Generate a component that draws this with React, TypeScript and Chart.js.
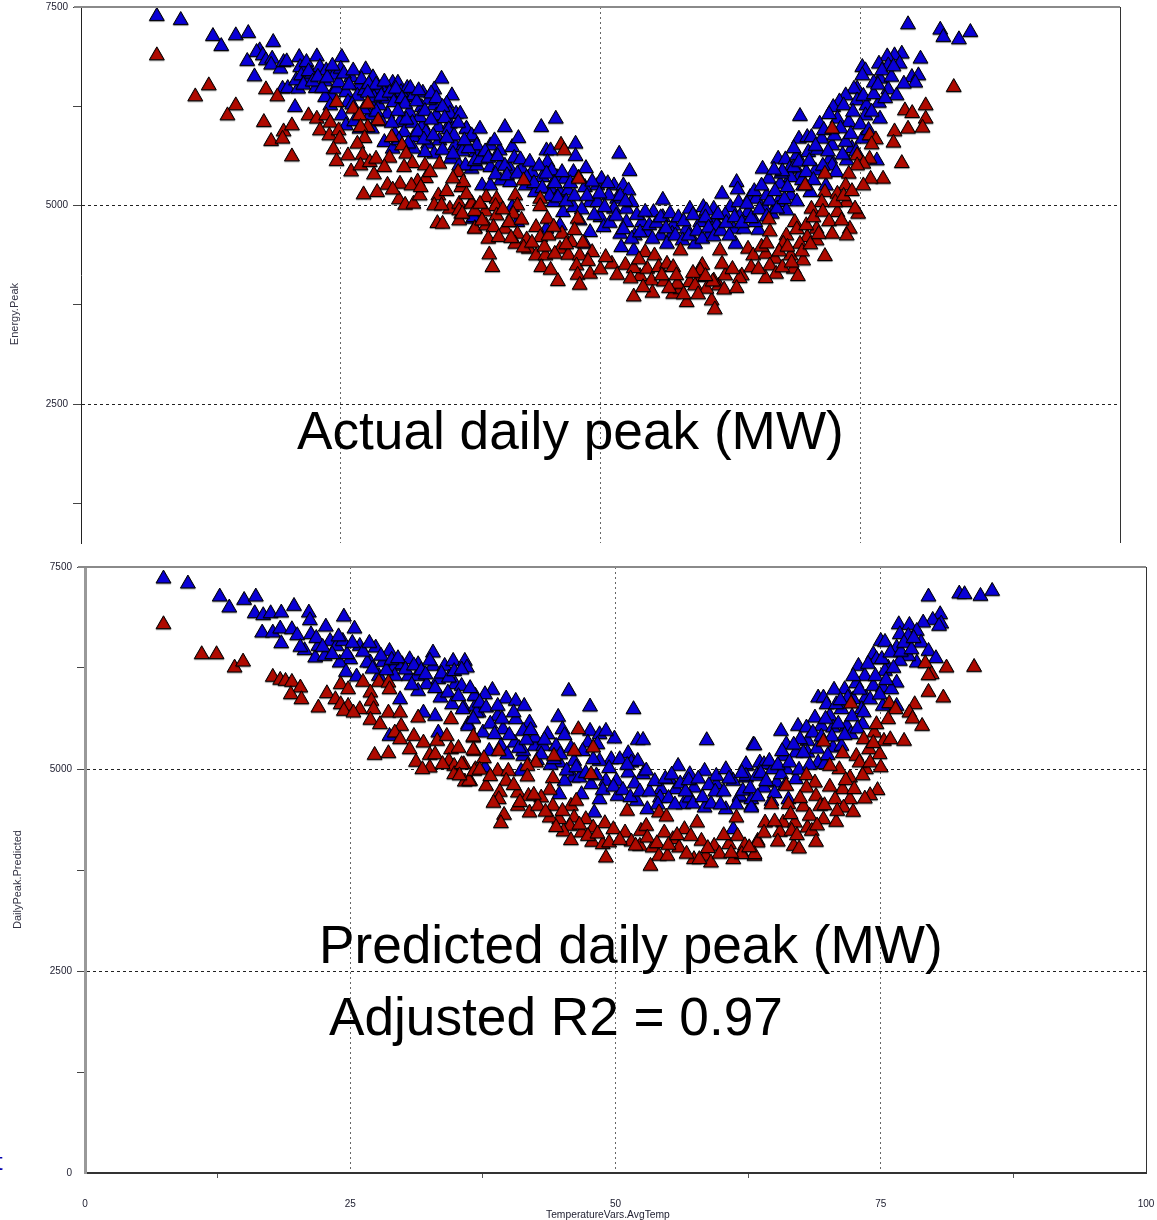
import React, { useEffect, useRef } from "react";
import { Chart, registerables } from "chart.js";

Chart.register(...registerables);

const xTickValues = [0, 12.5, 25, 37.5, 50, 62.5, 75, 87.5, 100];
const xTickLabels = [0, 25, 50, 75, 100];
const yTickValues = [1250, 2500, 3750, 5000, 6250, 7500];
const yTickLabels = [0, 2500, 5000, 7500];

const actualBlue = [
[7.3,7385],[9.6,7335],[12.7,7133],[13.5,7007],[14.9,7142],[16.1,7171],[18.5,7058],[16,6819],[16.7,6625],[17.2,6953],[16.9,6932],[17.5,6890],[17.8,6827],[18.4,6848],[18.3,6772],[19.2,6722],[19.5,6806],[19.8,6814],[19.4,6470],[19.9,6478],[20.9,6470],[20.6,6239],[21,6869],[21.1,6743],[21.7,6806],[22.7,6877],[20.7,6575],[21.2,6638],[21.7,6596],[22.2,6659],[23,6743],[22.6,6478],[23.5,6562],[23.6,6701],[25.1,6869],[24.4,6646],[25,6722],[26,6617],[27.4,6714],[28.1,6613],[24.1,6386],[23.5,6365],[24.6,6470],[25.5,6428],[26.8,6512],[25.7,6302],[25.1,6134],[25.5,6008],[24,6260],[28.1,6428],[28.7,6470],[29.4,6491],[30,6545],[30.5,6545],[34.7,6596],[34,6461],[35.7,6386],
[32.8,6239],[31.6,6365],[34,6260],[35.2,6281],[36.1,6155],[29.5,6155],[30.7,6050],[31.6,6176],[32.9,6008],[34.4,5987],[35.5,6029],[32,5861],[33.4,5777],[34.5,5819],[36,5756],[37.1,5966],[37.7,5861],[34,5651],[35.6,5588],[36.4,5504],[38,5672],[37.6,5462],[31.1,5924],[35.5,6155],[28.7,6260],[27.8,6302],[30.2,6386],[32,6386],[30.8,6428],[29.4,6344],[28,5966],[29.2,5798],[26.8,5966],[33.1,5672],[37.7,4832],[27.8,6134],[32.6,6113],[34.2,6134],[32,5714],[30,5714],[31.4,6480],[32.9,6420],[33.5,6330],[28.9,6060],[30.2,5900],[31.9,6040],
[36.5,6155],[37.1,5966],[37.6,5882],[36.8,5756],[38.1,5756],[39.4,5756],[40.3,5693],[41.5,5735],[37,5504],[38.1,5504],[39.4,5483],[41.3,5462],[40.4,5315],[38.6,5252],[39.4,5252],[41.3,5294],[42.8,5252],[43.4,5420],[44.4,5357],[43.7,5168],[45.2,5210],[45.8,5357],[46.6,5336],[47.4,5420],[46.1,5168],[46.9,5189],[48.5,5231],[49.7,5252],[50.1,5336],[51.3,5252],[51.6,5084],[49,5042],[50,4853],[51.3,4958],[52.5,4790],[54,4790],[50.3,4727],[49,4664],[51.9,4643],[53.3,4622],[54.5,4664],[55.8,4622],[57,4748],[58.3,4706],[59.6,4790],[61,4811],[56.9,4643],[46.4,4916],[45.5,5042],[48,4811],[48.5,4517],[37.8,4853],[42,4790],[41.5,4979],[44.8,4706],[46.1,4748],[52.5,4958],[47.4,4979],[50.8,5126],[49.7,5042],[40.3,5504],[42.4,5462],
[51.8,5651],[52.8,5433],[47.6,5777],[47.6,5622],[44.8,5693],[45.2,5693],[44.9,5546],[45.3,5441],[48.6,5470],[52.2,5252],[52.7,5189],[53,5042],[56,5071],[55.1,4916],[56,4853],[58.6,4958],[59.9,4979],[60.9,4958],[40.8,5987],[38.4,5966],[42.1,5848],[39.8,5819],[44.3,5987],[45.7,6092],[52,4475],[53.2,4433],[56.4,4517],[59.1,4517],
[79.6,7281],[82.7,7213],[83,7121],[84.5,7092],[85.6,7184],[80.8,6848],[79,6911],[78.3,6890],[77.6,6877],[76.8,6785],[77.7,6764],[78.8,6785],[75.2,6743],[75.5,6701],[75.2,6638],[76.9,6596],[76.3,6546],[77.7,6462],[78.5,6386],[79.97,6617],[80.6,6638],[80.3,6546],[79.2,6533],[74.7,6470],[74.4,6470],[73.6,6386],[74.7,6323],[75.6,6260],[76.8,6293],[73,6310],[72.4,6239],[73.4,6260],[75.5,6134],[69.2,6126],[71.1,6029],[72.8,6092],[73.9,6050],[76.9,6092],[69.1,5840],[69.9,5861],[70.3,5861],[71.3,5840],[72.3,5756],[74.2,5722],[75.2,5840],[67.1,5588],[67.8,5580],[68.9,5630],[70,5672],[72.1,5588],[73.7,5567],[76.6,5567],[65.6,5462],[68.2,5462],[69.2,5378],[70.7,5441],[72.3,5504],[66.2,5336],[67.3,5273],[68.3,5357],[70.2,5168],[63.1,5294],[63.2,5202],[64.4,5105],[65,5084],[66,5126],[67.1,5042],[68.3,5126],[61.7,5147],[62.5,4979],[64.2,4916],[65.2,4693],[66.5,4895],[67.9,4937],[62.8,4706],[63,4517],[63.8,4706],[60.2,4937],[61.2,4748],[64.9,4790],[63.4,4860],[60.5,4640],[62,4880],[65.8,4960],[69.5,5250]
];

const actualBlueDense = [
[21.4,6520],[21.9,6690],[22.3,6560],[22.8,6620],[23.2,6480],[23.7,6610],[24.2,6760],[24.8,6550],[25.3,6660],[25.8,6520],[26.2,6700],[26.6,6380],[27,6590],[27.3,6450],[27.7,6530],[28.2,6360],[28.4,6520],[28.9,6380],[29.2,6560],[29.7,6420],[30.1,6300],[30.3,6470],[30.9,6350],[31.2,6280],[31.7,6480],[32.3,6310],[32.5,6450],[33.1,6190],[33.7,6410],[34.2,6350],[34.8,6240],[35,6100],[35.4,5960],[35.9,5880],[36.3,6040],[36.7,5680],[37.3,5720],[37.9,5560],[33.2,5920],[33.7,6080],[31.3,6080],[30.5,6190],[29.9,6040],[28.4,6180],[27.2,6210],[26.3,6060],[27.6,6420],[26.1,6270],[30.6,5820],[31.5,5780],[32.4,5930],[33,5830],[33.9,5880],[34.8,5700],[35.2,5850],[35.8,5650],[36.9,5820],[38.4,5580],[38.9,5680],[39.2,5600],[39.9,5390],[40.1,5620],[40.8,5500],[41,5380],[41.7,5600],[42,5400],[42.3,5580],[42.9,5350],[43.2,5550],[43.6,5280],[44.1,5500],[44.4,5220],[44.8,5400],[45.1,5120],[45.6,5280],[45.9,5100],[46.3,5420],[46.7,5050],[47.1,5280],[47.5,5120],[47.9,5350],[48.2,4950],[48.7,5120],[49.2,5300],[49.4,4880],[49.9,5150],[50.4,4980],[50.7,5280],[50.9,4780],[51.5,4870],[51.9,5120],[52.2,4700],[52.4,5050],[53,4580],[53.5,4880],[53.8,4660],[54.3,4920],[54.7,4750],[55,4580],[55.4,4780],[55.8,4850],[56.3,4710],[56.7,4900],[57.2,4620],[57.5,4850],[57.9,4560],[58,4800],[58.5,4620],[58.9,4880],[59.3,4680],[59.8,4580],[60.1,4850],[60.4,4720],[60.9,4610],[61.3,4890],[61.6,4680],[62.1,4780],[62.4,4620],[62.9,4850],[63.3,5040],[63.6,4780],[64.1,5020],[64.5,4840],[64.8,5180],[65.3,4950],[65.5,5250],[66,4860],[66.3,5060],[66.8,5180],[67,4960],[67.4,5400],[67.7,5080],[68,5230],[68.6,5480],[68.9,5050],[69.1,5550],[69.4,5320],[69.8,5420],[70.1,5560],[70.5,5320],[70.9,5700],[71.4,5500],[71.7,5250],[71.9,5680],[72.5,5880],[72.7,5420],[73.1,5970],[73.3,5640],[73.6,5800],[74.1,5900],[74.3,6180],[74.6,5680],[75,6020],[75.3,6380],[75.8,5950],[76.1,6180],[76.3,6400],[76.7,6520],[77.1,6700],[77.4,6350],[78,6620],[78.2,6750],[72,6150],[71.5,5950],[70.7,5750],[68.6,5720],[67.5,5430],[66.7,5450]
];

const actualRed = [
[7.3,6890],[12.3,6512],[11,6373],[14.9,6260],[14.1,6134],[17.8,6462],[18.9,6373],[17.6,6050],[19.5,5932],[20.3,6008],[18.3,5811],[19.4,5840],[20.3,5617],[24.6,6302],[26.2,6218],[27.6,6281],[21.9,6134],[22.7,6092],[23.6,6134],[24,6042],[23,5945],[23.9,5882],[24.8,5945],[26.8,6134],[28.6,6071],[27.6,5987],[26.9,5987],[27.3,5848],[29.9,5861],[24.9,5840],[26.6,5777],[24.3,5706],[25.7,5630],[24.6,5559],[27.1,5638],[26,5428],[26.9,5504],[27.8,5546],[28.4,5588],[29.7,5600],[29.2,5483],[30.9,5756],[31.3,5651],[31.9,5533],[31.1,5483],[33.1,5504],[34.5,5525],[33.2,5344],[36.3,5420],[36.6,5231],[29.5,5260],[30.7,5273],[32.4,5302],[31.8,5252],[27.2,5139],[28.5,5168],[30.6,5076],[31.2,5008],[32,5021],[32.6,5126],[34.4,5126],[34,5000],[35.5,4958],[34.7,5000],[36.4,5021],[37.6,5034],[36.6,4895],[34.3,4777],[34.8,4769],[36.4,4811],[37.9,4714],[36.4,4937],
[46.2,5764],[46.5,5693],[42.6,5315],[47.9,5336],[36.8,5294],[44.2,5084],[44.2,4992],[41.8,5126],[42,5000],[39,5105],[40,5084],[37.6,5021],[39.9,4992],[41.6,4895],[38.9,4924],[36.7,4895],[40,4874],[44.9,4832],[47.8,4832],[43.8,4727],[37.9,4706],[39,4748],[39.7,4727],[40.8,4706],[42,4643],[42.9,4572],[44.2,4601],[46.3,4643],[47.2,4538],[39.2,4580],[40.2,4601],[41.8,4517],[43.1,4454],[43.8,4370],[44.7,4370],[46.1,4454],[45.6,4391],[46.9,4378],[49.2,4412],[48,4370],[47.7,4244],[44.3,4223],[45.2,4189],[47.8,4126],[49,4139],[50,4194],[45.9,4047],[48,4000],[39.3,4383],[39.6,4223],[51.1,4265],[52.4,4252],[51.6,4126],[53.8,4110],[53.2,4210],[54.3,4412],[55.2,4370],[57.7,4433],[54.5,4202],[55.6,4223],[56.4,4265],[57,4223],[54.9,4055],[56.1,4042],[53.2,3853],[55,3900],[57,3887],[58.3,3782],[58.6,4034],[59.6,4097],[57.7,3950],[59.1,3992],[60.7,3803],[61,3690],[61.4,3992],[60.9,4055],[57.4,4013],[62,4118],[63.6,4118],[60.2,3950],[59.8,4250],
[84,6491],[81.3,6260],[79.3,6197],[80,6163],[81.3,6092],[79.6,5966],[81,5979],[78.3,5932],[78.2,5790],[79,5533],[75.9,5882],[76.5,5832],[76.1,5769],[72.3,5966],[75.9,5588],[74.7,5630],[75.3,5525],[77.2,5336],[76,5336],[74.7,5504],[73.9,5399],[75.3,5252],[71.6,5399],[69.7,5252],[73.6,5252],[71.6,5168],[72.8,5147],[71.3,5042],[73.7,5042],[70.3,4958],[74.8,4895],[72.8,4916],[66.2,4824],[68.7,4790],[70.8,4706],[74,4706],[72.3,4643],[73.7,4622],[66.3,4672],[67.9,4622],[69.9,4601],[71.6,4362],[69.2,4517],[70.8,4559],[67.6,4517],[61.5,4433],[64.2,4454],[64.7,4370],[65.9,4391],[68.3,4370],[69.5,4307],[66.8,4328],[61.7,4265],[66.3,4244],[66.9,4139],[68.6,4202],[65.9,4084],[69,4110],[63.4,4084],[60.8,4042],[59.6,4181]
];

const actualRedDense = [
[28.2,5390],[30,5200],[32.7,5230],[33.6,5420],[35.2,5180],[35.8,5340],[37.1,5140],[37.9,4930],[38.4,5020],[38.6,4810],[40.6,4950],[41.2,4790],[41.4,4590],[42.4,4820],[42.6,4470],[43.4,4530],[44.6,4480],[45,4620],[45.5,4730],[46.7,4510],[47.5,4690],[48.3,4530],[48.8,4300],[50.5,4350],[52.9,4080],[53.7,4320],[54.1,3970],[55.9,4120],[56.6,3960],[57.3,4120],[58,3880],[58.9,4150],[59.4,3880],[60.1,4110],[61.9,3940],[62.7,4200],[63.1,3960],[64.5,4220],[65.2,4200],[65.5,4480],[66,4520],[67.2,4420],[67.5,4220],[68,4480],[68.4,4280],[68.9,4700],[69.4,4420],[69.8,4750],[70.2,4510],[70.5,4850],[71,4640],[71.4,4920],[72,4800],[72.6,5040],[73.2,4810],[73.4,5120],[74.2,5180],[74.5,4960]
];

const predictedBlue = [
[7.4,7356],[9.7,7294],[12.7,7133],[13.6,6997],[15,7091],[16.1,7133],[16,6926],[16.8,6902],[17.5,6926],[18.5,6935],[19.7,7017],[21.1,6935],[21.2,6840],[24.4,6885],[25.4,6737],[16.7,6687],[17.7,6687],[18.4,6737],[19.5,6728],[20,6654],[18.5,6555],[21.3,6667],[22.7,6761],[20.7,6469],[21.7,6378],[22,6522],[23.1,6584],[22.6,6398],[23.7,6522],[24.3,6584],[25,6357],[25.9,6522],[24,6316],[24.6,6200],[27.4,6502],[28.7,6460],[26.9,6316],[25.6,6143],[28.1,6324],[29.2,6275],[29.9,6295],[30.5,6151],[30.6,6357],[31.4,6295],[32.8,6440],[32.8,6275],[33.9,6275],[34.7,6337],[35.8,6337],[36,6254],[32.2,6048],[33.3,6110],[34.9,6048],[35.5,6027],[31.4,5965],[29.7,5862],[33.5,5883],[34.2,5945],[33,5656],[35.7,5760],[36.8,5904],[36.1,5553],[37.1,5697],[31.9,5697],[34.6,5800],[28.7,5408],[33.3,5450],[26.6,6316],[27.7,6151],[29.2,6151],[31.3,6151],[36.8,5780],
[45.6,5966],[47.6,5772],[51.7,5739],[44.6,5644],[49.9,5376],[52.1,5359],[52.6,5359],[58.6,5355],[63,5301],[38.4,5978],[39.7,5871],[40.6,5842],[41.4,5780],[36.7,5904],[37.7,5924],[35.6,5739],[36.9,5697],[38.9,5656],[40.6,5615],[41.9,5574],[36.1,5532],[37.5,5450],[39.4,5491],[41.3,5471],[45,5491],[45.2,5417],[43.6,5429],[42.4,5285],[43.2,5285],[44.4,5285],[47.6,5471],[48.5,5429],[49.1,5471],[47.4,5326],[48.3,5305],[51.2,5194],[49.6,5120],[48.5,5099],[51.5,5079],[52.1,5099],[55.9,5037],[58.4,4976],[41.3,5161],[44.7,5079],[46.1,5099],[46,4893],[45.2,4852],[46.6,4893],[47.7,4811],[49.1,4852],[50.1,4852],[51.2,4955],[52.6,4934],[55.1,4873],[57,4934],[54.3,4749],[55.7,4749],[57.4,4769],[59.5,4811],[61.1,4852],[62.3,4893],[59.5,4914],[60.4,4996],[62.3,5037],[63.6,5079],[48.5,4625],[50.2,4666],[52,4604],[53,4501],[56.4,4563],[58.4,4522],[60.4,4501],[62.8,4542],[44.7,4687],[46.8,4687],[48,4460],[57,4646],[54.2,4646],[61.7,4646],[37.7,5017],[41.1,4976],[39.2,5285],[38.1,5223],[41.3,5223],[61.1,4254],[42.4,5388],[40.5,5326],
[79.5,7133],[82.4,7170],[82.9,7162],[84.4,7141],[85.5,7203],[80.6,6914],[80.7,6799],[79.9,6844],[79,6811],[80.5,6770],[76.7,6790],[77.7,6782],[76.8,6667],[78.4,6708],[77.6,6646],[78.8,6563],[75,6584],[75.4,6572],[76.5,6502],[79.5,6460],[80.2,6370],[78.4,6316],[77.6,6398],[76.8,6337],[74.3,6419],[74.6,6357],[75.7,6254],[72.9,6275],[73.5,6151],[75.4,6213],[76.5,6068],[71.6,5986],[72.7,6060],[74.3,6027],[73.6,5883],[75.2,6007],[76,5986],[69.1,5883],[69.6,5883],[69.9,5800],[71.3,5739],[72.4,5862],[73.2,5739],[75.2,5780],[76.5,5780],[68.8,5635],[70.2,5656],[71.8,5532],[73.3,5553],[67.2,5532],[68,5512],[69.4,5532],[72.2,5429],[70.5,5512],[65.6,5470],[66.1,5305],[63.1,5293],[68.1,5347],[67.4,5367],[70.5,5264],[71.3,5285],[69.1,5079],[69.7,5058],[67,5202],[68.1,5202],[65.9,5161],[64,5058],[64.8,4996],[62.3,5058],[67,4873],[66.1,4996],[62.3,4914],[64,4769],[65.2,4831],[62.8,4625],[62.8,4522],[64.7,4604],[66.3,4625],[61.7,4666],[65.6,4934],[63.3,4914]
];

const predictedBlueDense = [
[20.3,6510],[21.8,6620],[22.4,6510],[23.3,6420],[23.9,6640],[24.7,6420],[25.2,6560],[26.2,6450],[26.8,6560],[27.1,6240],[27.9,6400],[28.4,6220],[28.9,6350],[29.5,6370],[30.2,6230],[30.8,6040],[31,6280],[31.7,6220],[32.1,6170],[32.5,6340],[33,6000],[33.6,6180],[34.3,6130],[34.8,6210],[35.2,5900],[35.5,6230],[36.3,6000],[36.6,5620],[37.2,5820],[37.8,5760],[38.2,5560],[38.6,5430],[38.9,5780],[39.3,5620],[39.8,5180],[40,5420],[40.4,5700],[40.9,5260],[41.6,5360],[42,5480],[42.6,5110],[43,5180],[43.3,5360],[43.9,5050],[44.2,5120],[44.8,5180],[45.4,4980],[45.8,5260],[46.3,5020],[46.9,5220],[47.2,4950],[47.9,5120],[48.2,4920],[48.8,4740],[49.4,5010],[49.8,4780],[50.4,5120],[50.7,4740],[51.1,5050],[51.4,4650],[51.8,4820],[52.3,4720],[52.9,4980],[53.2,4720],[53.7,4850],[54,4560],[54.7,4880],[55,4640],[55.3,4930],[55.6,4560],[56.1,4820],[56.6,4720],[56.9,4860],[57.3,4570],[57.8,4880],[58.2,4650],[58.8,4800],[59,4570],[59.4,4720],[59.9,4560],[60.2,4720],[60.7,4880],[61.4,4560],[61.9,4950],[62,4730],[62.7,4760],[63.4,4660],[63.7,4950],[64.2,4850],[64.5,5100],[65,4700],[65.3,5050],[65.7,5220],[66,4800],[66.4,5080],[66.8,5300],[67.3,4990],[67.7,5200],[68.3,5050],[68.6,5450],[69,5250],[69.4,5400],[69.8,5620],[70,5170],[70.4,5400],[70.8,5800],[71,5560],[71.6,5420],[71.9,5880],[72.3,5650],[72.8,5500],[73,5980],[73.4,5700],[73.8,6300],[74,5860],[74.5,6150],[74.9,5920],[75.1,6360],[75.5,6100],[75.9,6440],[76.2,6250],[76.9,6450],[77.2,6560],[77.9,6480],[78.1,6620],[72.4,6150],[70.6,5980],[71.2,5850]
];

const predictedRed = [
[7.4,6790],[11,6419],[12.4,6419],[14.1,6254],[14.9,6328],[17.7,6139],[18.4,6102],[18.9,6089],[19.5,6077],[20.3,6007],[19.4,5924],[20.4,5862],[22,5759],[22.8,5936],[24.1,6048],[24.8,5986],[23.6,5862],[24.1,5800],[24.8,5780],[25.9,5739],[24.4,5718],[25.3,5697],[26.2,6077],[27.7,6077],[28.6,6068],[28.7,5986],[26.9,5945],[27,5842],[27.2,5739],[26.9,5607],[27.8,5553],[28.6,5697],[29.7,5697],[29.8,5532],[29.2,5450],[29.7,5367],[31.4,5635],[34.5,5615],[31,5408],[31.9,5326],[30.6,5243],[32.5,5173],[33.2,5347],[34.1,5408],[34.5,5243],[36.6,5388],[36.7,5223],[27.3,5173],[28.6,5194],[31.2,5087],[32.5,5016],[31.8,4996],[34.3,5099],[34.8,5037],[35.7,5058],[34.8,4934],[35.8,4843],[36.3,4851],[36.8,4996],
[46.5,5491],[47.9,5264],[46.1,5223],[44.2,5161],[47.7,4934],[36.6,5400],[36.6,5236],[39,5223],[37.6,5132],[42.5,5079],[41.7,5037],[41.7,4906],[44.1,4885],[38.9,4976],[39.9,4976],[36.2,4852],[36.7,4976],[35.5,5058],[37.8,4790],[39.7,4852],[43.8,4741],[43,4646],[40.8,4707],[39.1,4716],[41.8,4666],[39,4625],[40.8,4543],[41.9,4460],[42.7,4543],[39.5,4431],[39.2,4328],[44.1,4543],[44.7,4378],[43.8,4398],[45.8,4543],[46.3,4605],[46.1,4398],[47.2,4378],[47.9,4274],[45.7,4295],[45.1,4225],[45.8,4118],[46.8,4213],[47.8,4097],[49,4328],[49.8,4254],[48.8,4068],[49.1,3903],[50.9,4213],[51.5,4101],[51.1,4481],[54.1,4460],[54.8,4410],[57.7,4336],[61.4,4398],[52.4,4233],[52.9,4295],[54.6,4213],[52.3,4048],[53.5,4027],[55.4,4130],[56.5,4254],[56,4027],[58.1,4110],[59.3,4048],[60.7,4068],[61.5,4171],[63.4,4110],[61.9,3965],[54.1,3924],[54.9,3924],[53.3,3800],[58.5,3924],[57.4,3883],[59,3841],[61.1,3883],[63.1,3924],[57.9,3883],
[83.8,6262],[81.2,6254],[79.2,6308],[79.8,6172],[79.5,6159],[79.5,5953],[80.9,5883],[78.2,5800],[77.7,5697],[78,5623],[78.9,5532],[72.2,5809],[75.8,5813],[76.4,5739],[75.7,5615],[69.6,5338],[74.4,5450],[73.4,5367],[74.6,5553],[75.3,5347],[75.9,5367],[77.2,5347],[71.4,5194],[72.7,5161],[73.9,5243],[74.9,5182],[73.6,4996],[71.1,4996],[70.2,5037],[72.1,4893],[68,4922],[68.8,4831],[66.1,4790],[68,4769],[71.4,4749],[70.7,4625],[68.9,4666],[74.7,4737],[74,4674],[73.5,4633],[72.1,4625],[69.3,4542],[67.7,4534],[64.7,4563],[66.3,4563],[71.5,4522],[72.4,4468],[69.6,4377],[70.8,4344],[64.1,4336],[65.8,4336],[66.9,4336],[68.1,4274],[65.5,4220],[66.6,4233],[68.5,4233],[68.9,4097],[66.8,4047],[67.3,4014],[63.4,4089],[62.2,4055],[63.1,3945],[61.9,3945]
];

const predictedRedDense = [
[33,5180],[33.7,5060],[35.2,5260],[35.3,4920],[37.2,4990],[38.2,4910],[38.5,4580],[40.4,4800],[41,4590],[42.3,4680],[43.4,4470],[44.4,4280],[45,4480],[46.6,4310],[47.4,4170],[48.3,4200],[49.4,4090],[50.4,4120],[51.9,4050],[53,4150],[53.9,4080],[55,4060],[55.8,4180],[56.7,3950],[57.1,4170],[58.7,4020],[59.8,3950],[60.2,4180],[60.9,3960],[62.6,4030],[64,4210],[65,4350],[65.3,4100],[66.5,4440],[67.1,4180],[67.4,4640],[68.3,4420],[69,4300],[69.7,4550],[70.2,4780],[70.9,4480],[71.7,4860],[72.5,4750],[73,5080],[73.3,4920],[74,5080],[74.3,5320],[75,5020]
];

const FONT = "'Liberation Sans', Arial, sans-serif";
const BLUE = "#0a00d8";
const RED = "#b00a00";

const pts = (a: number[][]) => a.map(([x, y]) => ({ x, y }));

const markerShadow = {
  id: "markerShadow",
  beforeDatasetsDraw(chart: any) {
    const c = chart.ctx;
    c.save();
    c.shadowColor = "rgba(0,0,0,0.35)";
    c.shadowOffsetY = 1;
    c.shadowBlur = 1;
  },
  afterDatasetsDraw(chart: any) {
    chart.ctx.restore();
  },
};

const frame = {
  id: "frame",
  afterDraw(chart: any) {
    const { left, right, top, bottom } = chart.chartArea;
    const c = chart.ctx;
    c.save();
    c.strokeStyle = "#8a8a8a";
    c.lineWidth = 2;
    c.beginPath();
    c.moveTo(left - 7, top);
    c.lineTo(right, top);
    c.stroke();
    c.strokeStyle = "#333";
    c.lineWidth = 1;
    c.beginPath();
    c.moveTo(right + 0.5, top);
    c.lineTo(right + 0.5, bottom);
    c.stroke();
    c.restore();
  },
};

const noScalePadding = (s: any) => {
  s.paddingTop = 0;
  s.paddingBottom = 0;
  s.paddingLeft = 0;
  s.paddingRight = 0;
};

function makeChart(
  canvas: HTMLCanvasElement,
  blue: number[][],
  red: number[][],
  o: { yMin: number; yTicks: number[]; left: number; top: number; right: number; bottom: number; xH: number; showX: boolean; axisColor: string; axisWidth: number }
) {
  const majorX = (v: number) => v > 0 && v < 100 && v % 25 === 0;
  return new Chart(canvas, {
    type: "scatter",
    data: {
      datasets: [
        { label: "Blue", data: pts(blue), order: 2, backgroundColor: BLUE, borderColor: "#000", borderWidth: 1, pointStyle: "triangle", pointRadius: 8.6, pointHoverRadius: 8.6 },
        { label: "Red", data: pts(red), order: 1, backgroundColor: RED, borderColor: "#000", borderWidth: 1, pointStyle: "triangle", pointRadius: 8.6, pointHoverRadius: 8.6 },
      ],
    },
    options: {
      animation: false,
      responsive: false,
      events: [],
      layout: { autoPadding: false, padding: { left: 0, top: o.top, right: o.right, bottom: o.bottom } },
      plugins: { legend: { display: false }, tooltip: { enabled: false }, title: { display: false } },
      scales: {
        x: {
          type: "linear",
          min: 0,
          max: 100,
          afterBuildTicks: (s: any) => { s.ticks = xTickValues.map((value) => ({ value })); },
          afterFit: (s: any) => { s.height = o.xH; noScalePadding(s); },
          border: { display: o.showX, color: "#333", width: 2, dash: [2, 3] },
          grid: {
            color: (c: any) => (majorX(c.tick.value) ? "#666" : "transparent"),
            drawTicks: o.showX,
            tickLength: 5,
            tickColor: (c: any) => (c.tick.value % 25 === 0 ? "transparent" : "#555"),
          },
          ticks: {
            display: o.showX,
            autoSkip: false,
            maxRotation: 0,
            padding: 20,
            color: "#223",
            font: { family: FONT, size: 10 },
            callback: (v: any) => (xTickLabels.includes(v) ? String(v) : ""),
          },
        },
        y: {
          type: "linear",
          min: o.yMin,
          max: 7500,
          afterBuildTicks: (s: any) => { s.ticks = o.yTicks.map((value) => ({ value })); },
          afterFit: (s: any) => { s.width = o.left; noScalePadding(s); },
          border: { color: o.axisColor, width: o.axisWidth, dash: [3, 3] },
          grid: {
            color: (c: any) => (c.tick.value === 2500 || c.tick.value === 5000 ? "#222" : "transparent"),
            tickLength: 8,
            tickColor: (c: any) => (c.tick.value > 0 ? "#444" : "transparent"),
          },
          ticks: {
            autoSkip: false,
            padding: 5,
            color: "#223",
            font: { family: FONT, size: 10 },
            callback: (v: any) => (yTickLabels.includes(v) ? String(v) : ""),
          },
        },
      },
    } as any,
    plugins: [markerShadow, frame],
  });
}

const bigText = (left: number, top: number): React.CSSProperties => ({
  position: "absolute",
  left,
  top,
  fontFamily: FONT,
  fontSize: 53.2,
  lineHeight: 1,
  color: "#000",
  whiteSpace: "nowrap",
});

const vertText = (left: number, top: number): React.CSSProperties => ({
  position: "absolute",
  left,
  top,
  fontFamily: FONT,
  fontSize: 11,
  lineHeight: 1,
  color: "#334",
  whiteSpace: "nowrap",
  writingMode: "vertical-rl",
  transform: "rotate(180deg)",
});

export default function App() {
  const topRef = useRef<HTMLCanvasElement>(null);
  const botRef = useRef<HTMLCanvasElement>(null);

  useEffect(() => {
    const a = makeChart(topRef.current!, [...actualBlue, ...actualBlueDense], [...actualRed, ...actualRedDense], {
      yMin: 750, yTicks: yTickValues, left: 81, top: 7, right: 37, bottom: 7, xH: 0, showX: false, axisColor: "#222", axisWidth: 1,
    });
    const b = makeChart(botRef.current!, [...predictedBlue, ...predictedBlueDense], [...predictedRed, ...predictedRedDense], {
      yMin: 0, yTicks: [0, ...yTickValues], left: 85, top: 17, right: 11, bottom: 0, xH: 47, showX: true, axisColor: "#999", axisWidth: 3,
    });
    return () => {
      a.destroy();
      b.destroy();
    };
  }, []);

  return (
    <div style={{ position: "absolute", left: 0, top: 0, width: 1157, height: 1220, background: "#fff", overflow: "hidden" }}>
      <canvas ref={topRef} width={1157} height={550} style={{ position: "absolute", left: 0, top: 0, display: "block" }} />
      <canvas ref={botRef} width={1157} height={670} style={{ position: "absolute", left: 0, top: 550, display: "block" }} />
      <div style={bigText(297, 404)}>Actual daily peak (MW)</div>
      <div style={bigText(319, 918)}>Predicted daily peak (MW)</div>
      <div style={bigText(329, 990)}>Adjusted R2 = 0.97</div>
      <div style={vertText(9, 283)}>Energy.Peak</div>
      <div style={vertText(12, 830)}>DailyPeak.Predicted</div>
      <div style={{ position: "absolute", left: 546, top: 1210, fontFamily: FONT, fontSize: 10.3, lineHeight: 1, color: "#223", whiteSpace: "nowrap" }}>TemperatureVars.AvgTemp</div>
      <div style={{ position: "absolute", left: -4, top: 1150, fontFamily: FONT, fontSize: 24, lineHeight: 1, color: "#0000b0" }}>t</div>
    </div>
  );
}
